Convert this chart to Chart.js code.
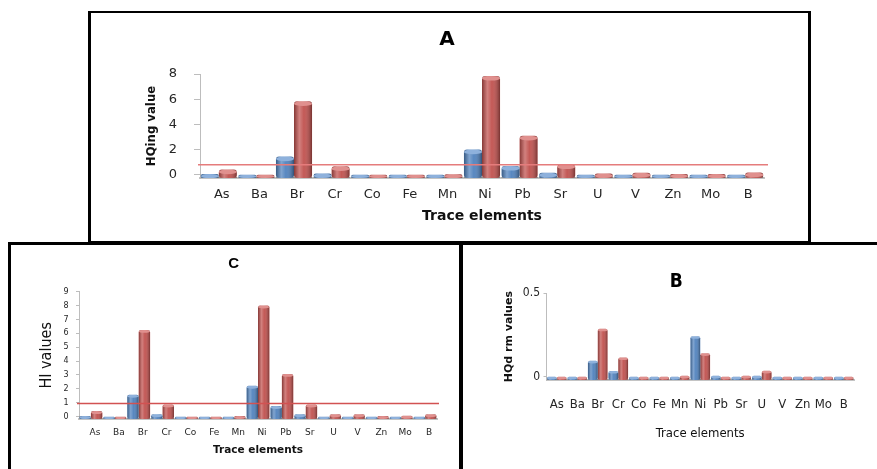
<!DOCTYPE html>
<html><head><meta charset="utf-8">
<script src="https://cdn.jsdelivr.net/npm/chart.js@4.4.0/dist/chart.umd.min.js"></script>
<style>
html,body{margin:0;padding:0;background:#fff;}
#page{position:relative;width:877px;height:469px;overflow:hidden;background:#fff;}
#page canvas{position:absolute;}
.box{position:absolute;box-sizing:border-box;border:3px solid #000;}
</style></head><body>
<div id="page">
<canvas id="cA" width="717" height="227" style="left:91px;top:14px"></canvas>
<canvas id="cC" width="447" height="223" style="left:11px;top:246px"></canvas>
<canvas id="cB" width="424" height="223" style="left:464px;top:246px"></canvas>
<div class="box" style="left:88px;top:11px;width:723px;height:233px;border-top-width:2px"></div>
<div class="box" style="left:8px;top:242px;width:454px;height:240px"></div>
<div class="box" style="left:460px;top:242px;width:430px;height:240px"></div>
</div>
<script>
// ---------- data ----------
const categories = ['As','Ba','Br','Cr','Co','Fe','Mn','Ni','Pb','Sr','U','V','Zn','Mo','B'];

// Chart A : HQing
const hqIngBlue = [0.05, 0, 1.45, 0.1, 0, 0, 0, 2.0, 0.7, 0.15, 0, 0, 0, 0, 0];
const hqIngRed  = [0.42, 0, 5.83, 0.67, 0, 0, 0.03, 7.85, 3.1, 0.82, 0.1, 0.15, 0.05, 0.05, 0.17];
const ticksA = [0, 2, 4, 6, 8];
const limitA = 0.8;

// Chart C : HI
const hiBlue = [0.05, 0, 1.58, 0.17, 0, 0, 0, 2.23, 0.77, 0.17, 0, 0, 0, 0, 0];
const hiRed  = [0.4, 0, 6.25, 0.87, 0, 0, 0.05, 8.0, 3.08, 0.87, 0.17, 0.17, 0.05, 0.07, 0.17];
const ticksC = [0, 1, 2, 3, 4, 5, 6, 7, 8, 9];
const limitC = 0.95;

// Chart B : HQdrm
const hqDermBlue = [0, 0, 0.095, 0.034, 0, 0, 0, 0.243, 0.005, 0, 0.005, 0, 0, 0, 0];
const hqDermRed  = [0, 0, 0.288, 0.115, 0, 0, 0.005, 0.14, 0, 0.005, 0.035, 0, 0, 0, 0];
const ticksB = [0, 0.5];

// ---------- fonts ----------
const SANS = '"DejaVu Sans", Verdana, sans-serif';
const NARROW = '"Liberation Sans Narrow", "DejaVu Sans Condensed", "Arial Narrow", sans-serif';
const LIB = '"Liberation Sans", Arial, sans-serif';

// ---------- plugins ----------
const cylinderPlugin = {
  id: 'cylinder',
  afterDatasetsDraw(chart) {
    const ctx = chart.ctx;
    chart.data.datasets.forEach((ds, di) => {
      const meta = chart.getDatasetMeta(di);
      meta.data.forEach(bar => {
        const p = bar.getProps(['x', 'y', 'base', 'width'], true);
        const l = p.x - p.width / 2, r = p.x + p.width / 2;
        const top = Math.min(p.y, p.base), bot = Math.max(p.y, p.base);
        ctx.save();
        ctx.globalCompositeOperation = 'source-atop';
        const g = ctx.createLinearGradient(l, 0, r, 0);
        g.addColorStop(0, 'rgba(0,0,0,0.30)');
        g.addColorStop(0.3, 'rgba(255,255,255,0.28)');
        g.addColorStop(0.55, 'rgba(255,255,255,0.05)');
        g.addColorStop(1, 'rgba(0,0,0,0.38)');
        ctx.fillStyle = g;
        ctx.fillRect(l, top, p.width, bot - top);
        const ry = Math.min(p.width * 0.13, (bot - top) / 2);
        if (ry > 0.5) {
          ctx.fillStyle = ds.capColor;
          ctx.beginPath();
          ctx.ellipse(p.x, top + ry, p.width / 2, ry, 0, 0, Math.PI * 2);
          ctx.fill();
        }
        ctx.restore();
      });
    });
  }
};

function limitPlugin(value, color, extend) {
  return {
    id: 'limitLine',
    afterDatasetsDraw(chart) {
      if (value == null) return;
      const {ctx, chartArea, scales} = chart;
      const py = scales.y.getPixelForValue(value);
      ctx.save();
      ctx.strokeStyle = color;
      ctx.lineWidth = 1.5;
      ctx.beginPath();
      ctx.moveTo(chartArea.left - 2, py);
      ctx.lineTo(chartArea.right + extend, py);
      ctx.stroke();
      ctx.restore();
    }
  };
}

function makeChart(id, s) {
  return new Chart(document.getElementById(id), {
    type: 'bar',
    data: {
      labels: categories,
      datasets: [
        {data: s.blue, backgroundColor: '#4F81BD', capColor: '#8EB1DC', base: s.min,
         borderRadius: s.radius, borderSkipped: false},
        {data: s.red, backgroundColor: '#C0504D', capColor: '#E0908E', base: s.min,
         borderRadius: s.radius, borderSkipped: false}
      ]
    },
    options: {
      responsive: false, animation: false, events: [],
      layout: {padding: {left: s.padLeft, right: s.padRight, top: 0, bottom: 0}},
      datasets: {bar: {categoryPercentage: 0.96, barPercentage: 1}},
      plugins: {
        legend: {display: false}, tooltip: {enabled: false},
        title: {display: true, text: s.title, font: s.titleFont, color: '#000', padding: s.titlePad}
      },
      scales: {
        x: {
          grid: {display: false, drawTicks: false, tickLength: 0},
          border: {display: true, color: '#c4c4c4', width: 2},
          ticks: {font: s.xFont, color: '#262626', padding: s.xPad, labelOffset: s.labelOffset,
                  autoSkip: false, maxRotation: 0},
          title: {display: true, text: 'Trace elements', font: s.xTitleFont, color: '#111',
                  padding: {top: 0, bottom: s.xTitlePad}},
          afterFit: sc => { sc.height = s.xHeight; }
        },
        y: {
          min: s.min, max: s.max,
          afterBuildTicks: a => { a.ticks = s.ticks.map(v => ({value: v})); },
          grid: {drawOnChartArea: false, drawTicks: true, tickLength: s.tickLen, color: '#bdbdbd'},
          border: {display: true, color: '#bdbdbd'},
          ticks: {font: s.yFont, color: '#262626', padding: s.yPad},
          title: {display: true, text: s.yTitle, font: s.yTitleFont, color: '#111',
                  padding: {top: s.yTitlePad, bottom: 0}},
          afterFit: sc => { sc.width = s.yWidth; }
        }
      }
    },
    plugins: [cylinderPlugin, limitPlugin(s.limit, s.limitColor, s.extend)]
  });
}

makeChart('cA', {
  blue: hqIngBlue, red: hqIngRed, ticks: ticksA, min: -0.26, max: 8,
  title: 'A', titleFont: {family: SANS, size: 20, weight: 'bold'}, titlePad: {top: 14, bottom: 22},
  yTitle: 'HQing value', yTitleFont: {family: NARROW, size: 13, weight: 'bold'}, yTitlePad: 14,
  yFont: {family: SANS, size: 13}, yPad: 17, tickLen: 6, yWidth: 70, padLeft: 39,
  xFont: {family: SANS, size: 13}, xPad: 9, labelOffset: 3,
  xTitleFont: {family: SANS, size: 14, weight: 'bold'}, xTitlePad: 16.6, xHeight: 63,
  padRight: 44, radius: 3, limit: limitA, limitColor: '#E57C7C', extend: 4
});

makeChart('cC', {
  blue: hiBlue, red: hiRed, ticks: ticksC, min: -0.17, max: 9,
  title: 'C', titleFont: {family: LIB, size: 15, weight: 'bold'}, titlePad: {top: 9, bottom: 18.7},
  yTitle: 'HI values', yTitleFont: {family: NARROW, size: 16}, yTitlePad: 6.6,
  yFont: {family: SANS, size: 8}, yPad: 7.5, tickLen: 3, yWidth: 48.6, padLeft: 19.4,
  xFont: {family: SANS, size: 9}, xPad: 8, labelOffset: 4,
  xTitleFont: {family: SANS, size: 10.5, weight: 'bold'}, xTitlePad: 12, xHeight: 50,
  padRight: 21, radius: 2, limit: limitC, limitColor: '#D25252', extend: 2
});

makeChart('cB', {
  blue: hqDermBlue, red: hqDermRed, ticks: ticksB, min: -0.02, max: 0.5,
  title: 'B', titleFont: {family: NARROW, size: 19, weight: 'bold'}, titlePad: {top: 24.3, bottom: 0.2},
  yTitle: 'HQd rm values', yTitleFont: {family: SANS, size: 11, weight: 'bold'}, yTitlePad: 4.3,
  yFont: {family: NARROW, size: 12}, yPad: 3.5, tickLen: 3, yWidth: 48, padLeft: 34.5,
  xFont: {family: NARROW, size: 13}, xPad: 17, labelOffset: 0,
  xTitleFont: {family: NARROW, size: 13}, xTitlePad: 28, xHeight: 89,
  padRight: 34, radius: 2, limit: null, limitColor: '#000', extend: 0
});
</script>
</body></html>
